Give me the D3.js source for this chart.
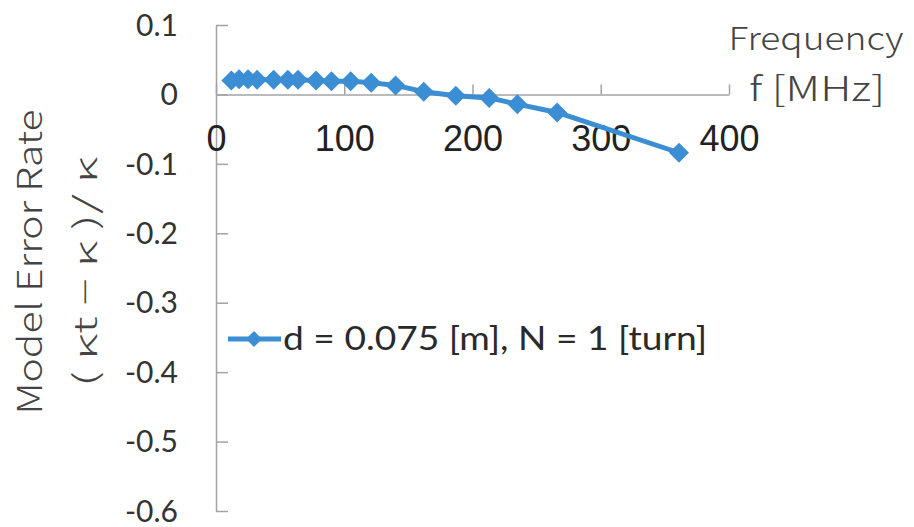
<!DOCTYPE html>
<html>
<head>
<meta charset="utf-8">
<script src="https://cdn.jsdelivr.net/npm/d3@7"></script>
<style>
  html, body { margin: 0; padding: 0; background: #fff; }
  svg { display: block; }
</style>
</head>
<body>
<svg id="chart" width="914" height="527"></svg>
<script>
// Frequency sweep of the model error rate for a single-turn loop
const freqMHz = [12, 18, 25, 32, 45, 56, 64, 78, 90, 105, 121, 140, 162, 187, 213, 235, 266, 361];
const errorRate = [0.020, 0.022, 0.022, 0.021, 0.021, 0.021, 0.021, 0.020, 0.019, 0.019, 0.017, 0.013, 0.004, -0.002, -0.005, -0.014, -0.026, -0.084];
const xTicks = [0, 100, 200, 300, 400];
const yTicks = [0.1, 0, -0.1, -0.2, -0.3, -0.4, -0.5, -0.6];
const seriesLabel = "d = 0.075 [m], N = 1 [turn]";
const xTitle = ["Frequency", "f [MHz]"];
const yTitle = ["Model Error Rate", "( κt − κ )/ κ"];

const svg = d3.select("#chart");
const blue = "#3b8ed3";
const axisGrey = "#a3a3a3";

const x = d3.scaleLinear().domain([0, 400]).range([216, 729]);
const y = d3.scaleLinear().domain([-0.6, 0.1]).range([511, 25]);

// y axis: ticks point inward, labels on the left, plain hyphen for negatives
const yAxis = svg.append("g")
  .attr("transform", `translate(${x(0)},0)`)
  .call(d3.axisLeft(y).tickValues(yTicks).tickSizeInner(-12).tickSizeOuter(0).tickPadding(38)
    .tickFormat(d => d === 0 ? "0" : d3.format(".1f")(d).replace("\u2212", "-")));
yAxis.select(".domain").attr("stroke", axisGrey).attr("stroke-width", 1.5);
yAxis.selectAll(".tick line").attr("stroke", axisGrey).attr("stroke-width", 1.5);
yAxis.selectAll(".tick text")
  .attr("font-family", "Lato, 'Open Sans', sans-serif")
  .attr("font-size", 30)
  .attr("fill", "#333")
  .attr("dy", "0.34em");

// x axis crossing at zero: ticks point up, labels below
const xAxis = svg.append("g")
  .attr("transform", `translate(0,${y(0)})`)
  .call(d3.axisBottom(x).tickValues(xTicks).tickSizeInner(-10).tickSizeOuter(0).tickPadding(0));
xAxis.select(".domain").attr("stroke", axisGrey).attr("stroke-width", 1.5);
xAxis.selectAll(".tick line").attr("stroke", axisGrey).attr("stroke-width", 1.5);
xAxis.selectAll(".tick text")
  .attr("font-family", "'Liberation Sans', Arial, sans-serif")
  .attr("font-size", 36)
  .attr("fill", "#222")
  .attr("y", 57)
  .attr("dy", 0);

// series line and diamond markers
const pts = freqMHz.map((f, i) => [f, errorRate[i]]);
svg.append("path")
  .datum(pts)
  .attr("fill", "none")
  .attr("stroke", blue)
  .attr("stroke-width", 5)
  .attr("stroke-linejoin", "round")
  .attr("d", d3.line().x(d => x(d[0])).y(d => y(d[1])));

const diamond = (cx, cy, r) => `M${cx},${cy - r}L${cx + r},${cy}L${cx},${cy + r}L${cx - r},${cy}Z`;
svg.append("g").selectAll("path")
  .data(pts)
  .join("path")
  .attr("fill", blue)
  .attr("d", d => diamond(x(d[0]), y(d[1]), 10));

// legend
const lg = svg.append("g");
lg.append("line").attr("x1", 228).attr("x2", 281).attr("y1", 339).attr("y2", 339)
  .attr("stroke", blue).attr("stroke-width", 5);
lg.append("path").attr("d", diamond(254, 339, 8)).attr("fill", blue);
lg.append("text").attr("x", 283).attr("y", 350)
  .attr("font-family", "Lato, 'Open Sans', sans-serif")
  .attr("font-size", 32)
  .attr("fill", "#2a2a2a")
  .attr("textLength", 424).attr("lengthAdjust", "spacingAndGlyphs")
  .text(seriesLabel);

// axis titles
const titleFont = "'Noto Sans CJK JP', 'Noto Sans', sans-serif";
svg.append("text").attr("x", 816).attr("y", 50).attr("text-anchor", "middle")
  .attr("font-family", titleFont).attr("font-weight", 300).attr("font-size", 32).attr("fill", "#444")
  .attr("textLength", 175).attr("lengthAdjust", "spacingAndGlyphs")
  .text(xTitle[0]);
svg.append("text").attr("x", 817).attr("y", 101).attr("text-anchor", "middle")
  .attr("font-family", titleFont).attr("font-weight", 300).attr("font-size", 34).attr("fill", "#444")
  .attr("textLength", 136).attr("lengthAdjust", "spacingAndGlyphs")
  .text(xTitle[1]);

svg.append("text").attr("transform", "translate(42,262) rotate(-90)").attr("text-anchor", "middle")
  .attr("font-family", titleFont).attr("font-weight", 300).attr("font-size", 34).attr("fill", "#444")
  .attr("textLength", 305).attr("lengthAdjust", "spacingAndGlyphs")
  .text(yTitle[0]);
svg.append("text").attr("transform", "translate(97,272) rotate(-90)").attr("text-anchor", "middle")
  .attr("font-family", titleFont).attr("font-weight", 300).attr("font-size", 32).attr("fill", "#444")
  .attr("textLength", 230).attr("lengthAdjust", "spacingAndGlyphs")
  .text(yTitle[1]);
</script>
</body>
</html>
